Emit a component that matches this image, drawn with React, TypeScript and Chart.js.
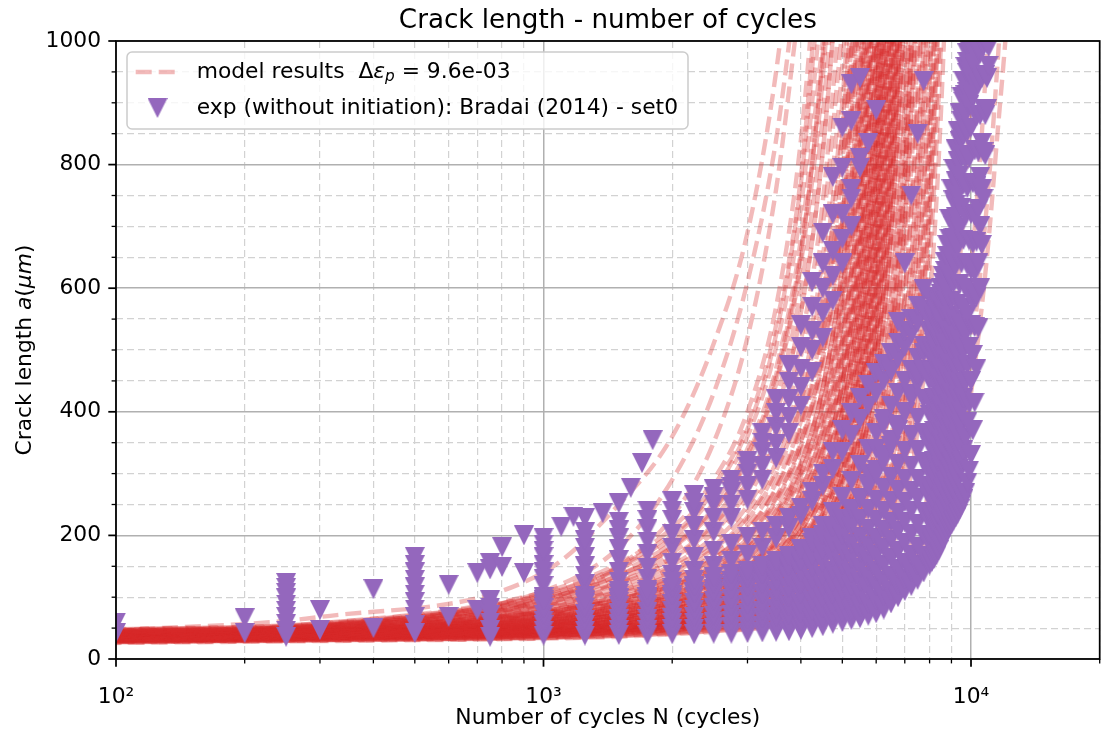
import React, { useEffect, useRef } from "react";
import { Chart, registerables } from "chart.js";

Chart.register(...registerables);

const FONT = '"DejaVu Sans", sans-serif';
const BASE = 21.8;
const RED = "rgba(214, 39, 40, 0.32)";
const PURPLE = "#9467bd";
const MAJOR_GRID = "#b0b0b0";
const MINOR_GRID = "#d2d2d2";

const titleText = "Crack length - number of cycles";
const xTitleText = "Number of cycles N (cycles)";
const legendExpText = "exp (without initiation): Bradai (2014) - set0";

// axis ticks
const xTickValues = [100, 200, 300, 400, 500, 600, 700, 800, 900, 1000, 2000, 3000, 4000, 5000, 6000, 7000, 8000, 9000, 10000, 20000];
const xMajorLabels: Record<number, string> = { 100: "10\u00B2", 1000: "10\u00B3", 10000: "10\u2074" };
const yTickValues = [0, 50, 100, 150, 200, 250, 300, 350, 400, 450, 500, 550, 600, 650, 700, 750, 800, 850, 900, 950, 1000];
const yLabelValues = [0, 200, 400, 600, 800, 1000];

// model results: crack length at these cycle counts, one array per simulated run
const modelCycles = [100, 300, 1000, 1500, 2000, 2500, 3000, 3500, 4000, 4500, 5000, 5500, 6000, 6500, 7000, 7500, 8000, 8500, 9000, 9500, 10000, 10500, 11000, 11500, 12000, 12500];
const modelRuns: number[][] = [
  [46, 68, 140, 250, 360, 510, 690, 950, 1300],
  [44, 56, 110, 180, 290, 430, 610, 840, 1150],
  [42, 52, 95, 150, 230, 350, 520, 760, 1080],
  [48, 58, 108, 155, 212, 290, 400, 570, 840, 1250],
  [48, 58, 105, 150, 205, 280, 380, 540, 780, 1200],
  [47, 57, 104, 148, 200, 272, 372, 525, 770, 1150],
  [46, 55, 102, 145, 196, 265, 360, 505, 730, 1080],
  [47, 56, 100, 140, 188, 252, 340, 470, 680, 1000],
  [46, 55, 98, 135, 180, 240, 325, 450, 650, 980, 1400],
  [45, 54, 97, 136, 182, 244, 330, 460, 660, 970, 1420],
  [44, 53, 96, 134, 180, 240, 322, 445, 640, 940, 1400],
  [45, 54, 94, 130, 172, 228, 305, 420, 600, 880, 1300],
  [45, 53, 92, 125, 165, 218, 290, 400, 560, 820, 1200],
  [43, 51, 90, 124, 163, 215, 288, 395, 560, 820, 1200],
  [43, 51, 88, 118, 152, 198, 262, 355, 490, 700, 1020],
  [45, 54, 90, 122, 158, 205, 272, 370, 515, 740, 1100],
  [44, 52, 86, 115, 148, 190, 248, 332, 455, 650, 960, 1400],
  [44, 52, 85, 112, 143, 183, 238, 318, 435, 620, 900, 1350],
  [42, 50, 82, 108, 137, 175, 226, 300, 410, 580, 850, 1260],
  [42, 50, 83, 110, 140, 178, 230, 305, 415, 590, 860, 1300],
  [41, 48, 78, 102, 129, 163, 210, 278, 378, 535, 785, 1180],
  [41, 49, 80, 105, 133, 168, 216, 285, 385, 545, 800, 1200],
  [40, 47, 75, 97, 122, 154, 197, 260, 352, 497, 730, 1100],
  [40, 48, 77, 101, 128, 162, 208, 275, 372, 525, 770, 1150],
  [42, 49, 76, 97, 120, 150, 190, 248, 333, 466, 680, 1020],
  [42, 50, 78, 100, 126, 158, 200, 262, 350, 490, 710, 1060],
  [39, 46, 72, 92, 114, 142, 180, 234, 313, 437, 637, 960, 1450],
  [41, 48, 75, 97, 122, 153, 195, 256, 345, 485, 705, 1060],
  [41, 47, 72, 91, 112, 138, 174, 225, 300, 417, 605, 910, 1380],
  [40, 47, 74, 95, 118, 147, 185, 240, 318, 440, 630, 940, 1400],
  [38, 45, 68, 86, 106, 131, 165, 213, 284, 394, 572, 860, 1310],
  [39, 46, 71, 91, 114, 142, 180, 235, 315, 440, 640, 960, 1450],
  [40, 46, 69, 86, 105, 129, 161, 206, 273, 376, 543, 815, 1240],
  [43, 50, 76, 96, 118, 145, 180, 230, 302, 412, 585, 860, 1300],
  [37, 43, 65, 82, 100, 123, 154, 197, 261, 359, 518, 778, 1190],
  [40, 46, 70, 89, 110, 136, 171, 222, 296, 410, 595, 890, 1350],
  [39, 45, 66, 82, 100, 121, 150, 190, 250, 342, 490, 735, 1120],
  [39, 46, 70, 88, 108, 132, 164, 208, 272, 370, 520, 760, 1130],
  [36, 42, 62, 78, 95, 116, 144, 183, 240, 328, 470, 705, 1080],
  [38, 45, 67, 85, 105, 129, 162, 209, 278, 384, 555, 830, 1250],
  [38, 44, 63, 78, 94, 114, 140, 177, 231, 314, 448, 670, 1030],
  [38, 44, 66, 83, 101, 123, 152, 192, 250, 338, 470, 690, 1040],
  [35, 41, 59, 74, 90, 109, 134, 169, 221, 300, 428, 640, 985, 1480],
  [37, 43, 64, 81, 99, 121, 151, 194, 257, 354, 510, 765, 1170],
  [37, 43, 61, 75, 90, 108, 132, 166, 215, 290, 412, 615, 945, 1430],
  [39, 45, 65, 81, 98, 118, 146, 186, 245, 335, 480, 720, 1100],
  [34, 40, 57, 71, 86, 104, 128, 161, 208, 281, 398, 593, 910, 1380],
  [40, 46, 68, 84, 102, 123, 150, 188, 242, 322, 445, 650, 980, 1450],
  [36, 41, 58, 71, 85, 102, 124, 155, 200, 268, 378, 563, 865, 1320],
  [36, 42, 61, 76, 92, 111, 137, 175, 230, 313, 448, 670, 1030],
  [33, 39, 55, 68, 82, 98, 119, 149, 192, 257, 362, 538, 828, 1270],
  [37, 43, 62, 77, 93, 112, 137, 171, 220, 292, 402, 590, 900, 1380],
  [35, 40, 56, 68, 81, 96, 116, 144, 185, 247, 347, 514, 790, 1210],
  [38, 44, 62, 76, 91, 109, 133, 168, 219, 297, 423, 630, 970, 1460],
  [34, 39, 53, 65, 77, 92, 111, 137, 176, 235, 330, 488, 750, 1150],
  [39, 45, 63, 77, 92, 110, 133, 164, 208, 273, 372, 540, 830, 1280],
  [36, 40, 54, 65, 77, 91, 109, 134, 171, 227, 317, 467, 716, 1100],
  [35, 41, 58, 72, 86, 103, 126, 159, 207, 280, 398, 592, 910, 1390],
  [33, 38, 51, 62, 74, 88, 105, 129, 164, 218, 303, 446, 684, 1050],
  [36, 41, 58, 71, 85, 101, 122, 150, 190, 250, 342, 500, 780, 1200],
  [35, 39, 52, 62, 73, 86, 102, 125, 158, 208, 289, 424, 650, 1000, 1500],
  [37, 42, 59, 72, 86, 102, 123, 154, 199, 267, 377, 560, 860, 1320],
  [32, 37, 49, 59, 70, 83, 99, 121, 153, 201, 278, 407, 623, 960, 1450],
  [38, 43, 59, 71, 84, 99, 118, 144, 181, 236, 320, 462, 710, 1100],
  [34, 38, 50, 59, 69, 81, 96, 117, 147, 192, 265, 387, 592, 910, 1380],
  [34, 39, 55, 68, 81, 96, 116, 145, 187, 251, 355, 525, 805, 1240],
  [33, 37, 47, 56, 66, 77, 91, 111, 139, 181, 249, 363, 555, 855, 1300],
  [35, 40, 55, 66, 78, 92, 110, 134, 168, 218, 296, 428, 660, 1030],
  [31, 35, 46, 55, 64, 75, 89, 108, 135, 175, 240, 349, 532, 820, 1250],
  [36, 41, 56, 68, 80, 95, 114, 141, 180, 240, 337, 497, 762, 1170],
  [34, 38, 48, 56, 65, 75, 88, 106, 131, 169, 230, 332, 505, 778, 1190],
  [37, 42, 56, 66, 77, 90, 106, 128, 159, 205, 276, 398, 615, 960, 1450],
  [32, 36, 45, 53, 61, 71, 84, 101, 125, 161, 219, 316, 480, 738, 1130],
  [35, 40, 54, 65, 77, 91, 109, 134, 171, 227, 318, 468, 718, 1100],
  [33, 37, 46, 53, 61, 70, 82, 98, 120, 154, 208, 298, 452, 695, 1065],
  [34, 39, 52, 62, 72, 84, 99, 119, 148, 190, 256, 368, 570, 890, 1350],
  [33, 38, 51, 62, 73, 86, 103, 127, 162, 215, 300, 440, 675, 1040],
  [36, 40, 52, 61, 70, 81, 95, 114, 140, 178, 238, 340, 525, 820, 1250],
  [36, 40, 53, 63, 74, 86, 102, 124, 156, 205, 284, 415, 636, 980, 1480],
  [33, 37, 48, 57, 66, 76, 89, 106, 130, 165, 220, 312, 478, 750, 1150],
  [34, 38, 50, 60, 70, 82, 97, 118, 148, 194, 268, 390, 598, 925, 1400],
  [35, 39, 49, 57, 65, 75, 87, 103, 125, 157, 207, 292, 445, 690, 1060],
  [32, 36, 48, 57, 67, 78, 92, 112, 140, 182, 250, 362, 555, 860, 1310],
  [32, 36, 45, 53, 61, 70, 81, 96, 116, 145, 190, 265, 400, 620, 960, 1450],
  [35, 39, 50, 59, 68, 79, 92, 110, 136, 175, 238, 343, 522, 805, 1230],
  [34, 38, 46, 53, 60, 68, 78, 91, 109, 135, 175, 242, 362, 560, 870, 1320],
  [33, 37, 47, 56, 64, 74, 87, 104, 128, 164, 222, 318, 483, 745, 1140],
  [31, 35, 42, 49, 56, 64, 73, 85, 101, 124, 160, 218, 322, 495, 770, 1180],
  [32, 36, 45, 52, 59, 68, 79, 93, 112, 139, 180, 245, 350, 520, 790, 1200],
  [31, 35, 45, 53, 61, 70, 82, 98, 120, 153, 206, 293, 443, 682, 1050, 1560],
  [33, 36, 43, 49, 55, 62, 70, 81, 95, 115, 146, 196, 285, 435, 680, 1050],
  [30, 34, 43, 50, 57, 65, 75, 88, 106, 131, 168, 226, 318, 468, 705, 1080],
  [34, 37, 47, 54, 62, 71, 82, 97, 118, 149, 198, 280, 420, 645, 990, 1480],
  [33, 36, 44, 50, 57, 64, 73, 85, 101, 124, 158, 210, 294, 428, 640, 980, 1450],
  [30, 34, 40, 46, 52, 58, 66, 76, 89, 107, 134, 177, 252, 380, 590, 920, 1400],
  [31, 34, 42, 48, 54, 61, 70, 81, 96, 117, 148, 196, 272, 392, 585, 890, 1340],
  [32, 35, 44, 51, 58, 67, 77, 91, 110, 138, 182, 255, 380, 582, 895, 1360],
  [29, 33, 40, 46, 52, 59, 67, 78, 92, 111, 139, 182, 250, 358, 530, 805, 1220],
  [32, 35, 41, 46, 51, 57, 64, 73, 85, 101, 125, 162, 226, 335, 515, 800, 1220],
  [32, 35, 42, 48, 54, 60, 68, 78, 91, 109, 135, 175, 237, 336, 492, 740, 1120],
  [30, 34, 42, 49, 56, 64, 74, 87, 105, 131, 172, 240, 355, 540, 830, 1260],
  [30, 33, 40, 45, 51, 57, 65, 74, 87, 104, 128, 164, 220, 310, 452, 678, 1030],
  [29, 32, 38, 43, 48, 54, 60, 68, 79, 94, 115, 147, 202, 295, 450, 700, 1080],
  [31, 34, 41, 46, 51, 57, 64, 73, 85, 100, 122, 155, 206, 287, 415, 620, 940, 1420],
  [33, 36, 44, 50, 57, 65, 74, 86, 103, 127, 165, 228, 336, 510, 785, 1200],
  [29, 32, 38, 44, 49, 55, 62, 71, 82, 97, 117, 147, 194, 268, 385, 572, 865, 1310],
  [31, 34, 39, 44, 49, 54, 60, 67, 77, 90, 109, 137, 184, 263, 395, 610, 940, 1420],
  [30, 33, 39, 44, 49, 54, 61, 69, 79, 93, 112, 140, 182, 250, 357, 528, 798, 1210],
  [31, 34, 41, 47, 54, 61, 70, 81, 96, 118, 153, 210, 308, 465, 715, 1090],
  [28, 31, 37, 42, 47, 52, 58, 66, 76, 89, 107, 133, 172, 234, 332, 490, 740, 1120],
  [28, 31, 36, 41, 46, 51, 57, 64, 73, 85, 102, 127, 168, 236, 350, 535, 830, 1260],
  [30, 33, 38, 43, 48, 53, 59, 66, 75, 87, 104, 128, 164, 221, 312, 458, 690, 1040],
  [30, 33, 38, 42, 47, 52, 57, 63, 72, 83, 98, 120, 155, 213, 310, 470, 730, 1120],
  [28, 31, 35, 39, 44, 49, 54, 60, 68, 78, 92, 112, 143, 193, 275, 412, 640, 990, 1500],
  [29, 32, 36, 40, 44, 48, 53, 59, 66, 75, 88, 106, 134, 178, 250, 370, 570, 880, 1330],
  [27, 30, 34, 38, 42, 46, 51, 56, 62, 70, 80, 93, 110, 133, 165, 210, 275, 370, 500, 680, 920, 1250],
  [28, 31, 35, 38, 42, 46, 50, 55, 61, 68, 77, 88, 102, 120, 143, 175, 218, 280, 365, 480, 630, 810, 1020],
  [27, 30, 34, 37, 41, 45, 49, 54, 60, 67, 76, 87, 101, 118, 139, 165, 198, 240, 300, 380, 490, 620, 770, 950, 1150],
  [26, 29, 33, 36, 40, 44, 48, 53, 58, 65, 73, 83, 96, 112, 130, 152, 178, 212, 260, 330, 430, 545, 680, 840, 990, 1150],
];

// experiments: early readings (N < 1000)
const earlyCycles = [100, 100, 200, 200, 250, 250, 250, 250, 250, 250, 250, 250, 250, 250, 300, 300, 400, 400, 500, 500, 500, 500, 500, 500, 500, 500, 500, 500, 500, 600, 600, 700, 700, 750, 750, 750, 750, 750, 750, 750, 750, 800, 800, 900, 900];
const earlyCrack = [59, 42, 66, 42, 123, 115, 107, 98, 88, 78, 68, 57, 46, 36, 79, 47, 113, 50, 165, 152, 140, 128, 116, 104, 92, 80, 68, 55, 42, 120, 68, 139, 79, 155, 145, 95, 83, 71, 59, 47, 36, 181, 149, 200, 139];

// fast specimen read at irregular cycles
const fastCycles = [1000, 1100, 1175, 1250, 1375, 1500, 1600, 1700, 1800];
const fastCrack = [196, 214, 230, 228, 236, 252, 277, 317, 354];

// experiments read every 250 cycles from N = 1000
const expCycles = [1000, 1250, 1500, 1750, 2000, 2250, 2500, 2750, 3000, 3250, 3500, 3750, 4000, 4250, 4500, 4750, 5000, 5250, 5500, 5750, 6000, 6250, 6500, 6750, 7000, 7250, 7500, 7750, 8000];
const specE1 = [185, 205, 222, 240, 255, 265, 275, 290, 320, 365, 420, 475, 540, 610, 690, 780, 860, 930];
const specE2 = [165, 180, 195, 210, 225, 238, 250, 270, 300, 335, 375, 420, 470, 530, 600, 660, 720, 760, 795, 835, 888];
const specE3 = [140, 150, 160, 170, 180, 192, 205, 228, 258, 290, 325, 365, 410, 465, 520, 580, 640, 700];
const specE4 = [152, 165, 178, 190, 202, 215, 228, 250, 280, 312, 348, 392, 440, 500, 560, 620, 680, 745, 810];
const specE5 = [175, 192, 208, 225, 240, 252, 262, 278, 310, 350, 398, 448, 505, 570, 640, 720, 795, 870, 940];
const specM1 = [100, 102, 105, 108, 112, 116, 121, 127, 134, 142, 152, 164, 178, 195, 215, 238, 262, 288, 314, 340, 365, 388, 410, 430, 450, 468, 487, 507, 528];
const specM2 = [118, 121, 125, 130, 136, 142, 150, 158, 168, 180, 195, 212, 232, 255, 280, 307, 335, 362, 388, 410, 430, 450, 468, 486, 505, 525, 545, 565, 585];
const specM3 = [130, 135, 141, 148, 156, 165, 175, 186, 198, 206, 215, 228, 245, 270, 300, 335, 370, 398, 422, 443, 462, 478, 495, 512, 530, 550, 572, 598];
const specM4 = [92, 94, 97, 100, 104, 108, 113, 118, 124, 131, 139, 148, 158, 170, 184, 200, 218, 238, 260, 283, 306, 330, 354, 378, 400, 422, 445, 468, 492];
const specB1 = [88, 90, 92, 95, 98, 101, 105, 109, 113, 118, 124, 131, 140, 150, 162, 178, 198, 225, 260, 300, 340, 380, 465, 545, 640, 750, 850, 935];
const specC1 = [38, 38, 39, 39, 40, 40, 41, 41, 42, 43, 44, 45, 47, 50, 53, 57, 60, 63, 66, 70, 74, 80, 90, 100, 110, 118, 128, 140, 152];
const specC2 = [46, 46, 47, 47, 48, 49, 50, 51, 52, 54, 56, 58, 61, 64, 67, 71, 75, 79, 84, 89, 95, 102, 110, 119, 129, 140, 152, 167, 185];
const specC3 = [55, 55, 56, 57, 58, 59, 60, 62, 64, 66, 68, 71, 74, 78, 82, 87, 92, 98, 104, 111, 118, 126, 135, 145, 156, 168, 182, 200, 220];
const specC4 = [62, 63, 64, 65, 66, 68, 70, 72, 75, 78, 81, 85, 89, 94, 99, 105, 111, 118, 125, 133, 142, 152, 163, 175, 188, 202, 218, 238, 260];
const specC5 = [72, 73, 74, 76, 78, 80, 82, 85, 88, 92, 96, 100, 105, 111, 117, 124, 131, 139, 148, 158, 168, 180, 193, 207, 222, 240, 260, 280, 300];
const specC6 = [82, 83, 85, 87, 89, 91, 94, 97, 101, 105, 110, 115, 121, 128, 135, 143, 152, 162, 172, 183, 195, 208, 222, 237, 254, 272, 292, 318, 345];
const specC7 = [95, 96, 98, 100, 103, 106, 109, 113, 117, 122, 127, 133, 140, 148, 156, 165, 175, 186, 198, 211, 225, 240, 256, 273, 292, 313, 338, 365, 395];
const specC8 = [null, null, 110, 112, 115, 118, 122, 126, 131, 137, 143, 150, 158, 167, 177, 188, 200, 213, 227, 242, 258, 276, 295, 315, 337, 362, 390, 420, 450];
const specC9 = [null, null, null, null, 125, 128, 132, 137, 143, 150, 158, 167, 177, 188, 200, 213, 227, 243, 260, 278, 298, 320, 344, 370, 398, 428, 460, 495, 530];
const gridSpecimens = [specE1, specE2, specE3, specE4, specE5, specM1, specM2, specM3, specM4, specB1, specC1, specC2, specC3, specC4, specC5, specC6, specC7, specC8, specC9];

// late readings of the long-lived specimens, every 100 cycles from N = 8100
const lateCycles = [8100, 8200, 8300, 8400, 8500, 8600, 8700, 8800, 8900, 9000, 9100, 9200, 9300, 9400, 9500, 9600, 9700, 9800, 9900, 10000, 10100, 10200, 10300, 10400, 10500, 10600, 10700, 10800, 10900, 11000];
const lateC1 = [157, 162, 168, 176, 185, 193, 200, 207, 213, 218, 224, 229, 235, 242, 250, 259, 269, 285, 305, 330, 370, 415, 470, 535, 600, 670, 745, 815, 890, 960];
const lateC2 = [193, 201, 209, 217, 225, 233, 241, 249, 257, 265, 275, 285, 296, 308, 320, 338, 358, 383, 413, 450, 492, 537, 585, 640, 700, 760, 820, 880, 940, 990];
const lateC3 = [229, 238, 247, 256, 266, 276, 287, 298, 309, 320, 333, 348, 364, 381, 400, 422, 447, 475, 505, 540, 580, 625, 675, 728, 780, 835, 890, 945, 995];
const lateC4 = [270, 280, 290, 301, 312, 324, 336, 348, 361, 375, 390, 406, 425, 446, 470, 497, 525, 557, 592, 630, 672, 717, 765, 820, 880, 940, 995];
const lateC5 = [310, 320, 331, 343, 355, 368, 382, 397, 413, 430, 449, 470, 493, 516, 540, 568, 600, 637, 677, 720, 770, 823, 878, 932, 980];
const lateC6 = [357, 369, 382, 396, 410, 425, 441, 458, 478, 500, 523, 548, 575, 606, 640, 678, 718, 762, 810, 860, 912, 962];
const lateC7 = [408, 422, 437, 453, 470, 489, 509, 531, 555, 580, 607, 636, 666, 697, 730, 768, 808, 852, 896, 940, 985];
const lateC8 = [465, 481, 499, 519, 540, 563, 588, 614, 641, 670, 701, 734, 768, 804, 840, 876, 912, 948, 985];
const lateC9 = [542, 555, 569, 584, 600, 620, 642, 670, 712, 760, 793, 825, 855, 883, 910, 935, 958, 980, 998];
const lateM1 = [538, 549, 562, 576, 590, 608, 628, 652, 680, 710, 742, 774, 806, 838, 870, 902, 934, 966, 995];
const lateM4 = [502, 512, 523, 536, 550, 565, 580, 598, 621, 650, 682, 716, 750, 782, 815, 849, 883, 917, 950, 980];
const lateSpecimens = [lateC1, lateC2, lateC3, lateC4, lateC5, lateC6, lateC7, lateC8, lateC9, lateM1, lateM4];

function makeMarker(): HTMLCanvasElement {
  const c = document.createElement("canvas");
  c.width = 20;
  c.height = 20;
  const g = c.getContext("2d")!;
  g.fillStyle = PURPLE;
  g.beginPath();
  g.moveTo(0, 0);
  g.lineTo(20, 0);
  g.lineTo(10, 20);
  g.closePath();
  g.fill();
  return c;
}

type Run = { t: string; italic?: boolean; size?: number; dy?: number };

function fontFor(r: Run) {
  return `${r.italic ? "italic " : ""}${r.size ?? BASE}px ${FONT}`;
}
function runsWidth(ctx: CanvasRenderingContext2D, runs: Run[]) {
  let w = 0;
  for (const r of runs) {
    ctx.font = fontFor(r);
    w += ctx.measureText(r.t).width;
  }
  return w;
}
function drawRuns(ctx: CanvasRenderingContext2D, runs: Run[], x: number, y: number) {
  let cx = x;
  for (const r of runs) {
    ctx.font = fontFor(r);
    ctx.fillText(r.t, cx, y + (r.dy ?? 0));
    cx += ctx.measureText(r.t).width;
  }
}

export default function App() {
  const canvasRef = useRef<HTMLCanvasElement | null>(null);

  useEffect(() => {
    const canvas = canvasRef.current;
    if (!canvas) return;
    const marker = makeMarker();

    const expPoints: { x: number; y: number }[] = [];
    earlyCycles.forEach((n, i) => expPoints.push({ x: n, y: earlyCrack[i] }));
    fastCycles.forEach((n, i) => expPoints.push({ x: n, y: fastCrack[i] }));
    gridSpecimens.forEach((spec) => {
      spec.forEach((a, i) => {
        if (a !== null && a !== undefined) expPoints.push({ x: expCycles[i], y: a as number });
      });
    });
    lateSpecimens.forEach((spec) => {
      spec.forEach((a, i) => expPoints.push({ x: lateCycles[i], y: a }));
    });
    expPoints.sort((p, q) => p.x - q.x);

    const redSets = modelRuns.map((run, i) => ({
      type: "line" as const,
      label: "model",
      data: run.map((a, j) => ({ x: modelCycles[j], y: a })),
      borderColor: RED,
      borderWidth: 4.4,
      borderDash: [16, 7],
      borderDashOffset: (i * 7.3) % 23,
      borderJoinStyle: "round" as const,
      borderCapStyle: "butt" as const,
      pointRadius: 0,
      pointHoverRadius: 0,
      fill: false,
      cubicInterpolationMode: "monotone" as const,
      order: 1,
    }));

    const expSet = {
      type: "line" as const,
      label: "exp",
      data: expPoints,
      showLine: false,
      pointStyle: marker,
      pointRadius: 10,
      pointHoverRadius: 10,
      pointBackgroundColor: PURPLE,
      pointBorderWidth: 0,
      order: 0,
    };

    const isMajorX = (v: number) => v === 100 || v === 1000 || v === 10000;
    const isMajorY = (v: number) => yLabelValues.includes(v);

    const decor = {
      id: "decor",
      afterDraw(chart: any) {
        const { ctx, chartArea: ca, scales } = chart;
        const xs = scales.x;
        const ys = scales.y;
        ctx.save();
        ctx.strokeStyle = "#000";
        ctx.setLineDash([]);
        yTickValues.forEach((v) => {
          const py = ys.getPixelForValue(v);
          const major = isMajorY(v);
          ctx.lineWidth = major ? 1.75 : 1.3;
          const len = major ? 7.7 : 4.4;
          ctx.beginPath();
          ctx.moveTo(ca.left - len, py);
          ctx.lineTo(ca.left, py);
          ctx.stroke();
        });
        xTickValues.forEach((v) => {
          const px = xs.getPixelForValue(v);
          const major = isMajorX(v);
          ctx.lineWidth = major ? 1.75 : 1.3;
          const len = major ? 7.7 : 4.4;
          ctx.beginPath();
          ctx.moveTo(px, ca.bottom);
          ctx.lineTo(px, ca.bottom + len);
          ctx.stroke();
        });
        ctx.lineWidth = 1.75;
        ctx.strokeRect(ca.left, ca.top, ca.right - ca.left, ca.bottom - ca.top);

        ctx.fillStyle = "#000";
        ctx.textAlign = "center";
        ctx.textBaseline = "alphabetic";
        ctx.font = `26.2px ${FONT}`;
        ctx.fillText(titleText, (ca.left + ca.right) / 2, 28);
        ctx.font = `${BASE}px ${FONT}`;
        ctx.fillText(xTitleText, (ca.left + ca.right) / 2, 724);

        const yRuns: Run[] = [
          { t: "Crack length " },
          { t: "a", italic: true },
          { t: "(" },
          { t: "\u03BC", italic: true },
          { t: "m", italic: true },
          { t: ")" },
        ];
        ctx.save();
        ctx.translate(31, (ca.top + ca.bottom) / 2);
        ctx.rotate(-Math.PI / 2);
        ctx.textAlign = "left";
        ctx.textBaseline = "alphabetic";
        const yw = runsWidth(ctx, yRuns);
        drawRuns(ctx, yRuns, -yw / 2, 0);
        ctx.restore();

        const lx = 127, ly = 52, lw = 561, lh = 77, rr = 5;
        ctx.beginPath();
        ctx.moveTo(lx + rr, ly);
        ctx.lineTo(lx + lw - rr, ly);
        ctx.arcTo(lx + lw, ly, lx + lw, ly + rr, rr);
        ctx.lineTo(lx + lw, ly + lh - rr);
        ctx.arcTo(lx + lw, ly + lh, lx + lw - rr, ly + lh, rr);
        ctx.lineTo(lx + rr, ly + lh);
        ctx.arcTo(lx, ly + lh, lx, ly + lh - rr, rr);
        ctx.lineTo(lx, ly + rr);
        ctx.arcTo(lx, ly, lx + rr, ly, rr);
        ctx.closePath();
        ctx.fillStyle = "rgba(255,255,255,0.8)";
        ctx.fill();
        ctx.strokeStyle = "#cccccc";
        ctx.lineWidth = 1.5;
        ctx.stroke();

        const row1 = 72;
        const row2 = 108;
        ctx.strokeStyle = RED;
        ctx.lineWidth = 4.4;
        ctx.setLineDash([16, 7]);
        ctx.beginPath();
        ctx.moveTo(135.7, row1);
        ctx.lineTo(179.3, row1);
        ctx.stroke();
        ctx.setLineDash([]);
        ctx.drawImage(marker, 157.5 - 10, row2 - 10);

        ctx.fillStyle = "#000";
        ctx.textAlign = "left";
        ctx.textBaseline = "middle";
        const r1: Run[] = [
          { t: "model results  " },
          { t: "\u0394" },
          { t: "\u03B5", italic: true },
          { t: "p", italic: true, size: BASE * 0.7, dy: 5 },
          { t: " = " },
          { t: "9.6e-03" },
        ];
        drawRuns(ctx, r1, 196.7, row1);
        ctx.font = `${BASE}px ${FONT}`;
        ctx.fillText(legendExpText, 196.7, row2);
        ctx.restore();
      },
    };

    const chart = new Chart(canvas, {
      type: "line",
      data: { datasets: [expSet as any, ...(redSets as any[])] },
      options: {
        responsive: false,
        animation: false,
        events: [],
        layout: { autoPadding: false, padding: { left: 0, right: 1.3, top: 41, bottom: 0 } },
        plugins: {
          legend: { display: false },
          title: { display: false },
          tooltip: { enabled: false },
        },
        scales: {
          x: {
            type: "logarithmic",
            min: 100,
            max: 20000,
            afterBuildTicks: (s: any) => {
              s.ticks = xTickValues.map((v) => ({ value: v, major: isMajorX(v) }));
            },
            afterFit: (s: any) => {
              s.height = 72;
              s.paddingLeft = 0;
              s.paddingRight = 0;
              s.paddingTop = 0;
              s.paddingBottom = 0;
            },
            ticks: {
              autoSkip: false,
              maxRotation: 0,
              minRotation: 0,
              padding: 25,
              color: "#000",
              font: { family: FONT, size: BASE },
              callback: (v: any) => xMajorLabels[Number(v)] ?? "",
            },
            grid: {
              drawTicks: false,
              color: (c: any) => (c.tick && isMajorX(c.tick.value) ? MAJOR_GRID : MINOR_GRID),
              lineWidth: (c: any) => (c.tick && isMajorX(c.tick.value) ? 1.5 : 1.2),
            },
            border: {
              display: false,
              dash: (c: any) => (c.tick && isMajorX(c.tick.value) ? [] : [7, 4]),
            },
          },
          y: {
            type: "linear",
            min: 0,
            max: 1000,
            afterBuildTicks: (s: any) => {
              s.ticks = yTickValues.map((v) => ({ value: v }));
            },
            afterFit: (s: any) => {
              s.width = 116;
              s.paddingLeft = 0;
              s.paddingRight = 0;
              s.paddingTop = 0;
              s.paddingBottom = 0;
            },
            ticks: {
              autoSkip: false,
              padding: 15,
              color: "#000",
              font: { family: FONT, size: BASE },
              callback: (v: any) => (isMajorY(Number(v)) ? String(v) : ""),
            },
            grid: {
              drawTicks: false,
              color: (c: any) => (c.tick && isMajorY(c.tick.value) ? MAJOR_GRID : MINOR_GRID),
              lineWidth: (c: any) => (c.tick && isMajorY(c.tick.value) ? 1.5 : 1.2),
            },
            border: {
              display: false,
              dash: (c: any) => (c.tick && isMajorY(c.tick.value) ? [] : [7, 4]),
            },
          },
        },
      } as any,
      plugins: [decor as any],
    });

    return () => chart.destroy();
  }, []);

  return (
    <div style={{ position: "fixed", left: 0, top: 0, width: 1101, height: 731, background: "#ffffff" }}>
      <canvas ref={canvasRef} width={1101} height={731} style={{ display: "block", width: "1101px", height: "731px" }} />
    </div>
  );
}
